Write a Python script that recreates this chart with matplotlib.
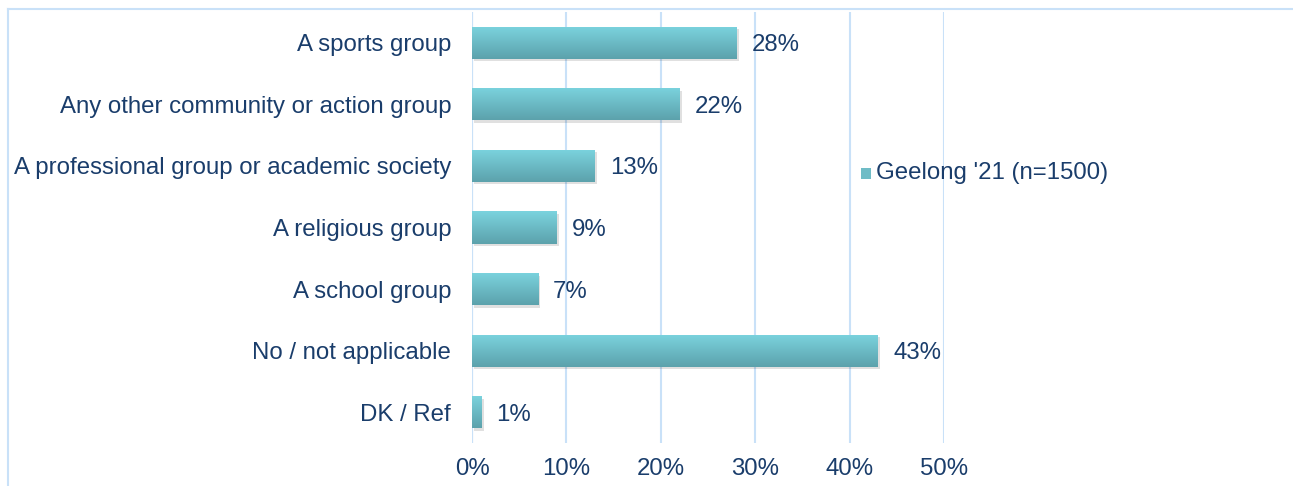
import numpy as np
import matplotlib.pyplot as plt
from matplotlib.lines import Line2D
from matplotlib.patches import Rectangle

plt.rcParams['font.family'] = ['Liberation Sans', 'DejaVu Sans']

categories = ['A sports group', 'Any other community or action group',
              'A professional group or academic society', 'A religious group',
              'A school group', 'No / not applicable', 'DK / Ref']
values = [28, 22, 13, 9, 7, 43, 1]
series_name = "Geelong '21 (n=1500)"
ticks = [0, 10, 20, 30, 40, 50]

FS = 17.3
TEXT = '#1a3d6b'
GRID = '#c9e1f8'
TOP = np.array([0x7b, 0xd3, 0xde]) / 255
BOT = np.array([0x5c, 0xa2, 0xac]) / 255

fig = plt.figure(figsize=(12.93, 4.86), dpi=100)
ax = fig.add_axes([472 / 1293, 1 - 443 / 486, (944 - 472) / 1293, (443 - 12) / 486])

y = np.arange(len(categories))
bars = ax.barh(y, values, height=0.52, color='#6fbcc6', zorder=3)

# vertical gradient inside each bar, plus a soft shadow
grad = np.linspace(0, 1, 64)[:, None, None]
img = TOP * (1 - grad) + BOT * grad
for b in bars:
    x0, y0, w, h = b.get_x(), b.get_y(), b.get_width(), b.get_height()
    sh = Rectangle((x0 + 0.25, y0 + 0.04), w, h, color='#000000', alpha=0.12,
                   lw=0, zorder=2)
    ax.add_patch(sh)
    im = ax.imshow(img, extent=(x0, x0 + w, y0 + h, y0), aspect='auto', zorder=4,
                   interpolation='bilinear')
    im.set_clip_path(b)
    b.set_facecolor('none')

for yi, v in zip(y, values):
    ax.text(v + 1.6, yi + 0.04, f'{v}%', va='center', ha='left', fontsize=FS, color=TEXT)

ax.set_xlim(0, 50)
ax.set_ylim(len(categories) - 0.5, -0.5)
ax.set_yticks(y)
ax.set_yticklabels(categories, fontsize=FS, color=TEXT)
ax.set_xticks(ticks)
ax.set_xticklabels([f'{t}%' for t in ticks], fontsize=FS, color=TEXT)
ax.tick_params(length=0)
ax.tick_params(axis='x', pad=11)
ax.tick_params(axis='y', pad=15)
ax.grid(axis='x', color=GRID, lw=1.5, zorder=0)
for s in ax.spines.values():
    s.set_visible(False)
ax.axvline(0, color=GRID, lw=1.5, zorder=1)

# outer frame (top and left edges)
fig.add_artist(Line2D([8 / 1293, 1], [1 - 9 / 486, 1 - 9 / 486], color=GRID, lw=1.5))
fig.add_artist(Line2D([8 / 1293, 8 / 1293], [0, 1 - 9 / 486], color=GRID, lw=1.5))

# legend
fig.patches.append(Rectangle((861 / 1293, 1 - 179 / 486), 10 / 1293, 11 / 486,
                             transform=fig.transFigure, color='#6fbcc6', lw=0))
fig.text(876 / 1293, 1 - 173 / 486, series_name, fontsize=FS, color=TEXT, va='center')

fig.savefig('out.png', dpi=100)
